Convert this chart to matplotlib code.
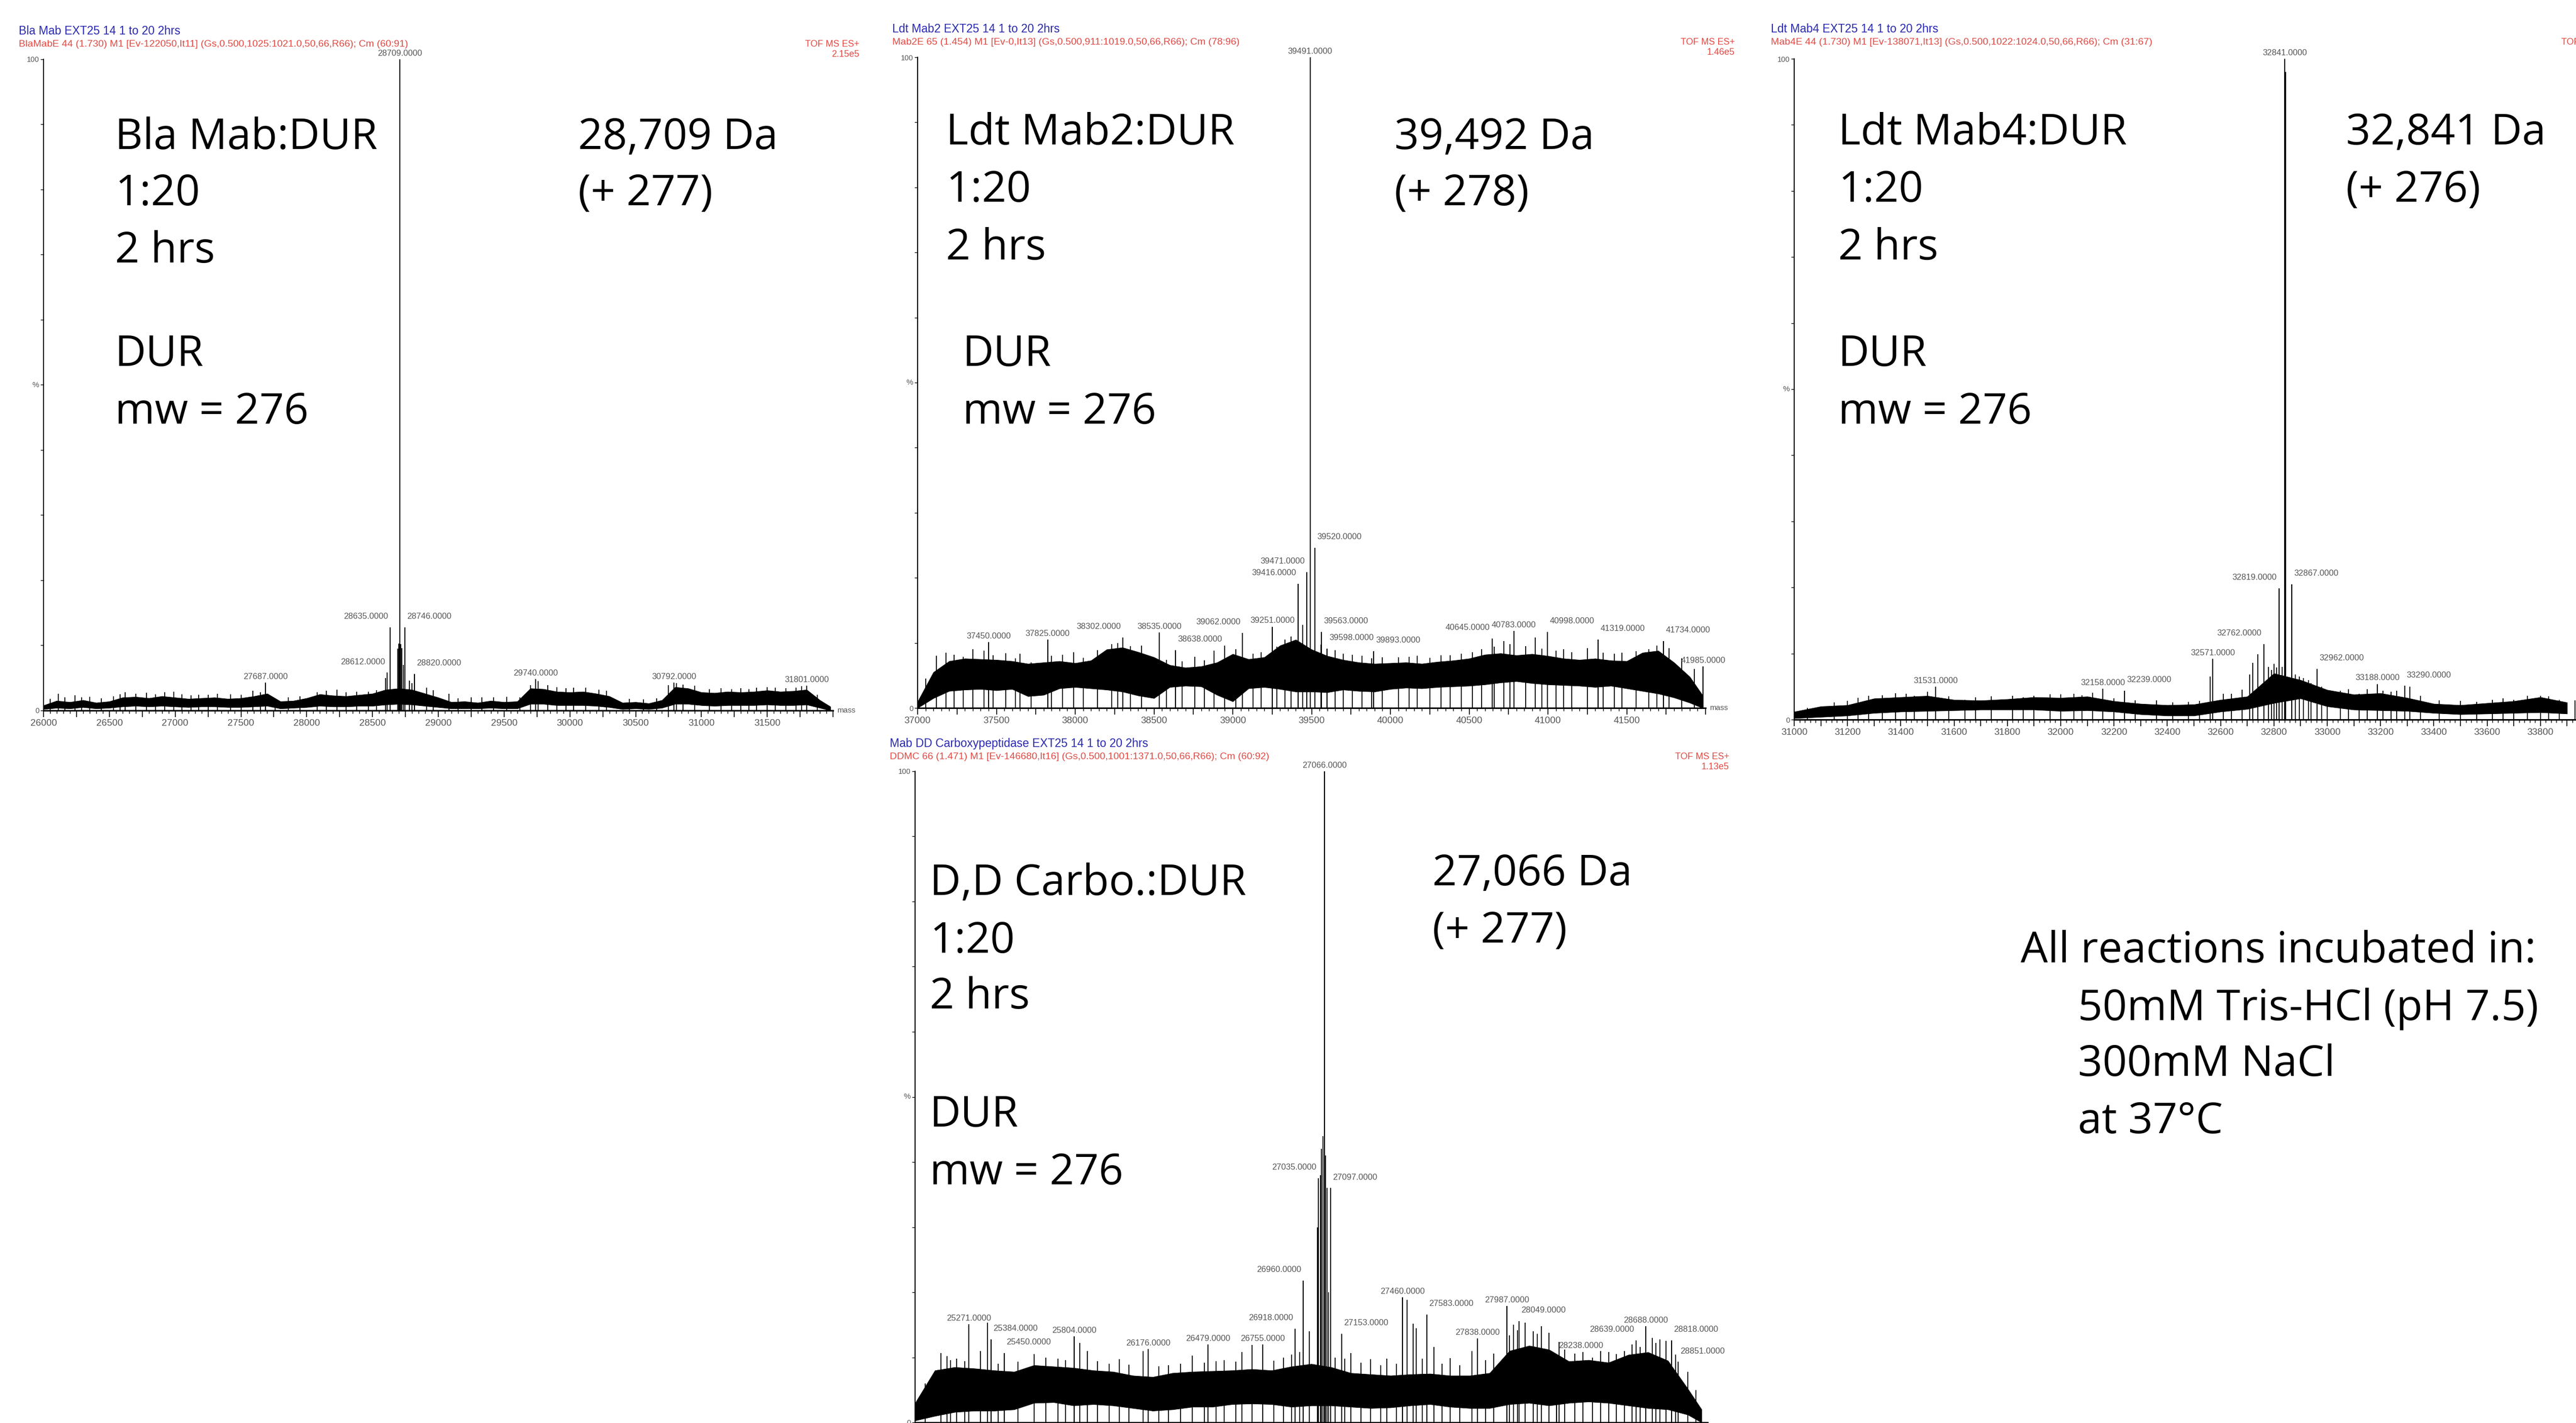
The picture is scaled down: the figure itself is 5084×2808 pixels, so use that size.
import matplotlib
matplotlib.use('Agg')
import matplotlib.pyplot as plt
from matplotlib.ticker import MultipleLocator, FuncFormatter

W, H = 5084, 2808
fig = plt.figure(figsize=(W / 100, H / 100), dpi=100)
fig.patch.set_facecolor('white')

BIG = ['Open Sans', 'DejaVu Sans']
SMALL = ['Liberation Sans', 'DejaVu Sans']

# ---------------- data: panel 1 (Bla Mab) ----------------
p1_mass = list(range(26000, 32000, 100)) + [31980]
p1_hi = [0.8, 1.5, 1.3, 1.6, 1.2, 1.4, 2.0, 2.1, 1.9, 2.2, 2.0, 1.8, 1.9, 2.0, 1.8, 1.9,
         2.2, 2.6, 1.4, 1.5, 1.9, 2.5, 2.3, 2.2, 2.4, 2.6, 3.2, 3.4, 3.2, 2.6, 2.0, 1.3,
         1.4, 1.2, 1.5, 1.3, 1.4, 3.4, 3.3, 2.9, 2.8, 2.9, 2.6, 2.2, 1.2, 1.3, 1.1, 1.6,
         3.6, 3.4, 2.8, 2.7, 2.9, 2.8, 2.9, 3.1, 2.9, 3.0, 3.2, 1.6, 0.6]
p1_lo = [0.2, 0.4, 0.3, 0.5, 0.3, 0.4, 0.6, 0.7, 0.6, 0.7, 0.6, 0.5, 0.6, 0.6, 0.5, 0.5,
         0.6, 0.7, 0.3, 0.4, 0.5, 0.7, 0.6, 0.6, 0.7, 0.7, 0.9, 1.0, 0.9, 0.7, 0.5, 0.3,
         0.3, 0.3, 0.4, 0.3, 0.3, 1.0, 1.0, 0.8, 0.8, 0.8, 0.7, 0.5, 0.2, 0.3, 0.2, 0.4,
         1.0, 1.0, 0.8, 0.7, 0.8, 0.8, 0.8, 0.9, 0.8, 0.8, 0.9, 0.4, 0.0]
p1_spike_mass = [26110, 26240, 26530, 26620, 26780, 26990, 27180, 27420, 27590, 28080,
                 28230, 28470, 28600, 28690, 28698, 28703, 28716, 28724, 28733, 28780,
                 28800, 28910, 29080, 29330, 29520, 29760, 29830, 30030, 30220, 30810,
                 30860, 30950, 31230, 31420, 31640,
                 26050, 26160, 26290, 26350, 26440, 26580, 26700, 26850, 26920, 27050,
                 27120, 27250, 27320, 27500, 27650, 27760, 27860, 27950, 28150, 28300,
                 28380, 28530, 28960, 29150, 29250, 29420, 29620, 29700, 29900, 29970,
                 30120, 30280, 30450, 30560, 30660, 30750, 31060, 31150, 31300, 31360,
                 31500, 31560, 31720, 31760, 31880]
p1_spike_int = [2.6, 2.3, 2.2, 2.8, 2.7, 2.9, 2.4, 2.5, 3.0, 2.8,
                3.2, 2.9, 5.0, 9.5, 10.3, 9.8, 10.2, 9.6, 7.0, 4.6,
                4.2, 3.5, 2.6, 2.0, 2.1, 4.5, 3.9, 3.5, 3.2, 4.2,
                4.0, 3.8, 3.3, 3.5, 3.4,
                1.8, 2.0, 2.0, 2.1, 1.9, 2.5, 2.6, 2.5, 2.8, 2.5,
                2.3, 2.4, 2.6, 2.4, 2.8, 1.9, 2.0, 2.2, 3.0, 2.8,
                2.9, 3.1, 3.1, 1.9, 2.0, 2.0, 2.0, 3.9, 3.6, 3.4,
                3.5, 3.0, 1.8, 1.7, 1.9, 3.9, 3.3, 3.4, 3.4, 3.3,
                3.6, 3.5, 3.5, 3.7, 2.4]
p1_peak_mass = [27687, 28612, 28635, 28709, 28746, 28820, 29740, 30792, 31801]
p1_peak_int = [4.3, 5.8, 12.8, 100.0, 12.8, 5.6, 4.8, 4.3, 3.8]
p1_label_side = ['c', 'r', 'r', 'c', 'l', 'l', 'c', 'c', 'c']

# ---------------- data: panel 2 (Ldt Mab2) ----------------
p2_mass = list(range(37000, 42000, 100)) + [41980]
p2_hi = [1.0, 5.5, 7.2, 7.6, 7.5, 7.4, 7.2, 6.8, 7.0, 7.2, 6.9, 7.3, 9.0, 9.3, 8.6, 7.8,
         6.6, 6.2, 6.4, 7.0, 8.3, 7.5, 7.8, 9.6, 10.5, 9.0, 8.0, 7.4, 7.0, 6.8, 6.9, 7.0,
         6.8, 7.1, 7.3, 7.6, 8.2, 8.4, 8.1, 8.3, 8.0, 7.6, 7.4, 7.6, 7.3, 7.2, 8.5, 8.8,
         7.0, 4.8, 2.0]
p2_lo = [0.0, 1.5, 2.6, 2.8, 2.9, 2.7, 2.9, 1.8, 2.0, 3.0, 3.2, 3.0, 2.8, 2.5, 1.9, 1.5,
         3.2, 3.4, 3.3, 2.0, 1.0, 3.0, 3.2, 2.9, 2.5, 2.5, 2.4, 2.8, 2.6, 2.5, 2.9, 3.1,
         3.0, 3.2, 3.3, 3.4, 3.6, 3.9, 4.1, 3.8, 3.6, 3.5, 3.4, 3.2, 3.4, 3.0, 2.6, 2.2,
         1.6, 0.8, 0.0]
p2_spike_mass = [37180, 37350, 37560, 37650, 37990, 38140, 38420, 38760, 38880, 38950,
                 39130, 39330, 39443, 39650, 39760, 39950, 40170, 40380, 40520, 40720,
                 40860, 40920, 41100, 41250, 41470, 41640,
                 37050, 37120, 37230, 37290, 37420, 37480, 37620, 37720, 37850, 37920,
                 38050, 38230, 38270, 38350, 38580, 38680, 38820, 39020, 39180, 39280,
                 39370, 39560, 39700, 39820, 39880, 40050, 40120, 40250, 40320, 40450,
                 40580, 40660, 40760, 40960, 41050, 41150, 41350, 41420, 41560, 41690,
                 41770, 41850, 41930]
p2_spike_int = [8.5, 9.0, 8.4, 8.3, 8.6, 8.9, 9.6, 7.9, 8.8, 9.6,
                8.3, 10.5, 12.8, 8.9, 8.2, 7.8, 8.0, 8.1, 8.6, 10.3,
                9.5, 10.8, 9.0, 9.2, 8.5, 9.0,
                4.5, 8.0, 8.2, 7.9, 8.8, 8.1, 7.6, 7.0, 8.0, 8.2,
                7.7, 9.8, 10.0, 9.5, 7.4, 7.2, 7.3, 9.0, 8.6, 9.4,
                11.0, 9.7, 8.3, 8.0, 7.6, 7.8, 7.9, 7.7, 8.1, 8.3,
                9.0, 9.4, 9.8, 9.1, 8.8, 8.6, 8.5, 8.3, 8.7, 9.6,
                9.2, 7.6, 6.0]
p2_peak_mass = [37450, 37825, 38302, 38535, 38638, 39062, 39251, 39416, 39471, 39491,
                39520, 39563, 39598, 39893, 40645, 40783, 40998, 41319, 41734, 41985]
p2_peak_int = [10.1, 10.5, 10.8, 11.6, 8.9, 11.5, 12.5, 19.1, 20.9, 100.0,
               24.6, 11.7, 9.1, 8.7, 10.7, 11.8, 11.7, 10.5, 10.3, 6.4]
p2_label_side = ['c', 'c', 'r', 'c', 'l', 'r', 'c', 'r', 'r', 'c',
                 'l', 'l', 'l', 'l', 'r', 'c', 'l', 'l', 'l', 'c']

# ---------------- data: panel 3 (Ldt Mab4) ----------------
p3_mass = list(range(31000, 34000, 100))
p3_hi = [1.2, 2.0, 2.2, 3.2, 3.4, 3.6, 3.0, 2.9, 3.1, 3.4, 3.3, 3.5, 2.8, 2.4, 2.2,
         2.3, 3.0, 3.5, 7.0, 6.0, 4.5, 3.8, 4.0, 3.3, 2.4, 2.2, 2.5, 2.8, 3.4, 2.6]
p3_lo = [0.2, 0.4, 0.6, 1.0, 1.2, 1.3, 1.4, 1.5, 1.5, 1.5, 1.3, 1.4, 1.2, 0.8, 0.6,
         0.6, 1.2, 1.6, 2.5, 3.2, 2.0, 1.5, 1.4, 1.3, 1.0, 0.8, 0.9, 1.0, 1.1, 0.9]
p3_spike_mass = [31240, 31330, 31380, 31450, 31580, 31640, 31900, 31960, 32050, 32120,
                 32360, 32480, 32560, 32610, 32740, 32780, 32800, 32830, 32845, 32880,
                 32910, 32930, 33000, 33120, 33240, 33260, 33310, 33700, 33800, 33830,
                 31050, 31150, 31200, 31280, 31420, 31500, 31680, 31740, 31820, 31860,
                 32000, 32080, 32200, 32280, 32420, 32520, 32640, 32680, 32710, 32720,
                 32790, 32810, 32895, 32940, 32980, 33050, 33080, 33150, 33210, 33350,
                 33420, 33500, 33560, 33620, 33660, 33750, 33870, 33930]
p3_spike_int = [3.3, 3.7, 4.0, 3.6, 3.5, 3.0, 3.6, 3.8, 3.9, 4.1,
                2.9, 2.7, 6.5, 3.9, 9.9, 8.0, 8.4, 8.0, 98.0, 6.8,
                6.3, 6.0, 4.4, 3.9, 4.2, 4.4, 5.0, 3.0, 3.6, 3.5,
                1.8, 2.6, 2.8, 3.6, 3.9, 4.2, 3.4, 3.5, 3.6, 3.4,
                3.8, 3.7, 3.2, 2.9, 2.6, 2.8, 3.9, 4.5, 6.8, 8.6,
                7.5, 7.9, 6.5, 5.5, 5.0, 4.4, 4.6, 4.6, 4.4, 3.6,
                2.9, 2.8, 2.7, 3.0, 3.2, 3.6, 3.0, 2.9]
p3_peak_mass = [31531, 32158, 32239, 32571, 32762, 32819, 32841, 32867, 32962, 33188, 33290]
p3_peak_int = [5.0, 4.7, 4.4, 9.2, 11.4, 19.9, 100.0, 20.5, 7.7, 5.4, 5.1]
p3_label_side = ['c', 'c', 'l', 'c', 'r', 'r', 'c', 'l', 'l', 'c', 'l']

# ---------------- data: panel 4 (D,D Carboxypeptidase) ----------------
p4_mass = list(range(25000, 29000, 100)) + [28970]
p4_hi = [3.0, 8.0, 8.5, 8.3, 8.0, 7.8, 8.8, 8.6, 8.4, 8.0, 7.8, 7.2, 7.0, 7.6, 7.8, 7.9,
         8.0, 8.2, 8.0, 8.6, 9.0, 8.5, 7.6, 7.4, 7.2, 7.4, 7.5, 7.2, 7.2, 7.6, 11.0, 11.8,
         11.2, 9.4, 9.6, 9.2, 10.4, 10.8, 9.5, 5.2, 2.0]
p4_lo = [0.3, 1.0, 1.6, 1.8, 1.8, 2.0, 3.0, 3.1, 2.6, 2.8, 2.6, 2.2, 1.8, 2.0, 2.4, 2.4,
         2.8, 2.9, 2.8, 2.4, 2.6, 2.6, 2.4, 2.2, 2.3, 2.6, 2.8, 2.4, 2.2, 2.2, 2.8, 3.0,
         2.6, 3.0, 3.2, 3.0, 2.6, 2.2, 2.0, 1.2, 0.0]
p4_spike_mass = [25130, 25160, 25210, 25330, 25366, 25600, 25830, 25870, 26030, 26150,
                 26400, 26560, 26700, 26860, 26990, 27030, 27045, 27052, 27060, 27072,
                 27080, 27088, 27200, 27300, 27380, 27484, 27514, 27530, 27620, 27700,
                 27810, 28020, 28080, 28120, 28160, 28200, 28330, 28420, 28540, 28580,
                 28720, 28760, 28790, 28900,
                 25050, 25180, 25250, 25420, 25520, 25660, 25720, 25760, 25920, 25980,
                 26080, 26230, 26280, 26340, 26460, 26520, 26620, 26650, 26810, 26900,
                 26940, 27120, 27170, 27250, 27350, 27430, 27560, 27660, 27750, 27880,
                 27920, 28000, 28040, 28140, 28250, 28280, 28370, 28460, 28500, 28620,
                 28660, 28740, 28840, 28940]
p4_spike_int = [10.7, 10.2, 9.8, 11.0, 15.3, 10.5, 12.2, 11.0, 9.7, 11.0,
                10.3, 9.6, 11.9, 10.0, 14.0, 30.0, 38.0, 42.0, 44.0, 41.0,
                36.0, 20.0, 10.7, 9.7, 9.8, 18.8, 15.2, 14.5, 11.6, 9.9,
                11.0, 15.0, 15.3, 14.0, 14.8, 13.8, 10.6, 10.0, 10.5, 11.0,
                13.0, 12.8, 12.5, 7.8,
                6.0, 9.6, 9.4, 9.0, 9.3, 10.0, 9.8, 9.6, 9.4, 9.0,
                8.9, 8.6, 8.8, 9.0, 9.2, 9.4, 9.3, 10.8, 9.5, 10.4,
                10.8, 10.0, 9.8, 9.2, 8.8, 9.0, 9.8, 9.0, 8.8, 9.6,
                10.6, 13.4, 14.2, 13.6, 12.4, 11.2, 10.8, 11.0, 10.8, 12.0,
                11.6, 12.2, 10.4, 5.0]
p4_peak_mass = [25271, 25384, 25450, 25804, 26176, 26479, 26755, 26918, 26960, 27035,
                27066, 27097, 27153, 27460, 27583, 27838, 27987, 28049, 28238, 28639,
                28688, 28818, 28851]
p4_peak_int = [15.1, 12.8, 10.7, 13.2, 11.3, 12.0, 12.0, 14.4, 21.8, 37.5,
               100.0, 36.0, 13.6, 19.2, 16.6, 12.9, 17.9, 15.6, 10.1, 12.6,
               14.8, 12.6, 9.3]
p4_label_side = ['c', 'l', 'l', 'c', 'c', 'c', 'c', 'r', 'r', 'r',
                 'c', 'l', 'l', 'c', 'l', 'c', 'c', 'l', 'l', 'r',
                 'c', 'l', 'l']

# ---------------- text ----------------
p1_header = ["Bla Mab EXT25 14 1 to 20 2hrs",
             "BlaMabE 44 (1.730) M1 [Ev-122050,It11] (Gs,0.500,1025:1021.0,50,66,R66); Cm (60:91)",
             "TOF MS ES+", "2.15e5"]
p2_header = ["Ldt Mab2 EXT25 14 1 to 20 2hrs",
             "Mab2E 65 (1.454) M1 [Ev-0,It13] (Gs,0.500,911:1019.0,50,66,R66); Cm (78:96)",
             "TOF MS ES+", "1.46e5"]
p3_header = ["Ldt Mab4 EXT25 14 1 to 20 2hrs",
             "Mab4E 44 (1.730) M1 [Ev-138071,It13] (Gs,0.500,1022:1024.0,50,66,R66); Cm (31:67)",
             "TOF MS ES+", "1.93e5"]
p4_header = ["Mab DD Carboxypeptidase EXT25 14 1 to 20 2hrs",
             "DDMC 66 (1.471) M1 [Ev-146680,It16] (Gs,0.500,1001:1371.0,50,66,R66); Cm (60:92)",
             "TOF MS ES+", "1.13e5"]

p1_notes = ["Bla Mab:DUR", "1:20", "2 hrs", "DUR", "mw = 276"]
p2_notes = ["Ldt Mab2:DUR", "1:20", "2 hrs", "DUR", "mw = 276"]
p3_notes = ["Ldt Mab4:DUR", "1:20", "2 hrs", "DUR", "mw = 276"]
p4_notes = ["D,D Carbo.:DUR", "1:20", "2 hrs", "DUR", "mw = 276"]
p1_mass_text = ["28,709 Da", "(+ 277)"]
p2_mass_text = ["39,492 Da", "(+ 278)"]
p3_mass_text = ["32,841 Da", "(+ 276)"]
p4_mass_text = ["27,066 Da", "(+ 277)"]
conditions = ["All reactions incubated in:", "50mM Tris-HCl (pH 7.5)", "300mM NaCl", "at 37°C"]


def ftext(x, y, s, **kw):
    kw.setdefault('va', 'center')
    return fig.text(x / W, 1 - y / H, s, **kw)


def panel(x0, x1, ytop, ybot, xlim, major, label_every, minor,
          band_m, band_hi, band_lo, sp_m, sp_i, pk_m, pk_i, sides,
          show_xlabels=True, show_mass=True):
    ax = fig.add_axes([x0 / W, 1 - ybot / H, (x1 - x0) / W, (ybot - ytop) / H])
    ax.set_xlim(*xlim)
    ax.set_ylim(0, 100)
    ax.patch.set_alpha(0)
    for s in ['top', 'right']:
        ax.spines[s].set_visible(False)
    ax.spines['left'].set_linewidth(1.4)
    ax.spines['bottom'].set_linewidth(2.2)
    ax.xaxis.set_major_locator(MultipleLocator(major))
    ax.xaxis.set_minor_locator(MultipleLocator(minor))
    hi_lim = xlim[1] - 1
    ax.xaxis.set_major_formatter(FuncFormatter(
        lambda v, p: f"{v:.0f}" if (round(v) % label_every == 0 and v < hi_lim) else ""))
    ax.tick_params(axis='x', which='major', length=9, width=1.2, labelsize=13.5,
                   labelcolor='#555555', pad=3, labelbottom=show_xlabels)
    ax.tick_params(axis='x', which='minor', length=4, width=1.0)
    ax.set_yticks(range(0, 101, 10))
    ax.set_yticklabels(['0'] + [''] * 9 + ['100'])
    ax.tick_params(axis='y', length=4, width=1.0, labelsize=10.5, labelcolor='#555555', pad=2)
    for lab in ax.get_xticklabels() + ax.get_yticklabels():
        lab.set_family(SMALL)
    ax.fill_between(band_m, band_lo, band_hi, color='black', lw=0.6)
    ax.vlines(sp_m, 0, sp_i, colors='black', lw=1.3)
    ax.vlines(pk_m, 0, pk_i, colors='black', lw=1.5)
    for m, i, sd in zip(pk_m, pk_i, sides):
        if sd == 'c':
            off, ha = (0, 3), 'center'
        elif sd == 'r':
            off, ha = (-3, 10), 'right'
        else:
            off, ha = (3, 10), 'left'
        ax.annotate(f"{m:.4f}", (m, i), xytext=off, textcoords='offset points',
                    ha=ha, va='bottom', fontsize=12, color='#555555',
                    family=SMALL, annotation_clip=False)
    if show_xlabels and show_mass:
        ftext(x1 + 8, ybot, "mass", ha='left', fontsize=11, color='#555555', family=SMALL)
    ftext(x0 - 16, (ytop + ybot) / 2, "%", ha='center', fontsize=11, color='#555555', family=SMALL)
    return ax


def header(x, y, lines, xr, cut=False):
    ftext(x, y, lines[0], ha='left', fontsize=16.5, color='#2a2ab0', family=SMALL)
    ftext(x, y + 25, lines[1], ha='left', fontsize=14, color='#e04a44', family=SMALL)
    if cut:
        # the reference image is cropped at the right edge through this label
        ftext(xr, y + 25, lines[2], ha='left', fontsize=13, color='#e04a44', family=SMALL)
    else:
        ftext(xr, y + 25, lines[2], ha='right', fontsize=13, color='#e04a44', family=SMALL)
        ftext(xr, y + 45, lines[3], ha='right', fontsize=13, color='#e04a44', family=SMALL)


# ---------------- panels ----------------
panel(86, 1644, 117, 1402, (26000, 32000), 250, 500, 50,
      p1_mass, p1_hi, p1_lo, p1_spike_mass, p1_spike_int, p1_peak_mass, p1_peak_int, p1_label_side)
panel(1811, 3366, 113, 1397, (37000, 42000), 250, 500, 50,
      p2_mass, p2_hi, p2_lo, p2_spike_mass, p2_spike_int, p2_peak_mass, p2_peak_int, p2_label_side)
panel(3541, 5119, 116, 1420, (31000, 34000), 100, 200, 20,
      p3_mass, p3_hi, p3_lo, p3_spike_mass, p3_spike_int, p3_peak_mass, p3_peak_int, p3_label_side,
      show_mass=False)
panel(1806, 3370, 1522, 2807, (25000, 29000), 250, 500, 50,
      p4_mass, p4_hi, p4_lo, p4_spike_mass, p4_spike_int, p4_peak_mass, p4_peak_int, p4_label_side,
      show_xlabels=False)

header(37, 62, p1_header, 1696)
header(1761, 58, p2_header, 3424)
header(3495, 58, p3_header, 5055, cut=True)
header(1756, 1468, p4_header, 3413)

BIGSIZE = 61


def notes(x, ys, lines, xs=None):
    for k, (y, s) in enumerate(zip(ys, lines)):
        xx = x if xs is None else xs[k]
        ftext(xx, y, s, ha='left', fontsize=BIGSIZE, color='black', family=BIG)


notes(227, [272, 383, 496, 700, 814], p1_notes)
notes(1141, [272, 383], p1_mass_text)
notes(1867, [263, 376, 490, 700, 814], p2_notes, [1867, 1867, 1867, 1900, 1900])
notes(2752, [272, 383], p2_mass_text)
notes(3628, [263, 376, 490, 700, 814], p3_notes)
notes(4630, [263, 376], p3_mass_text)
notes(1835, [1744, 1858, 1968, 2201, 2315], p4_notes)
notes(2827, [1725, 1838], p4_mass_text)
notes(3988, [1877, 1991, 2101, 2214], conditions, [3988, 4101, 4101, 4101])

fig.savefig('out.png', dpi=100, facecolor='white')
